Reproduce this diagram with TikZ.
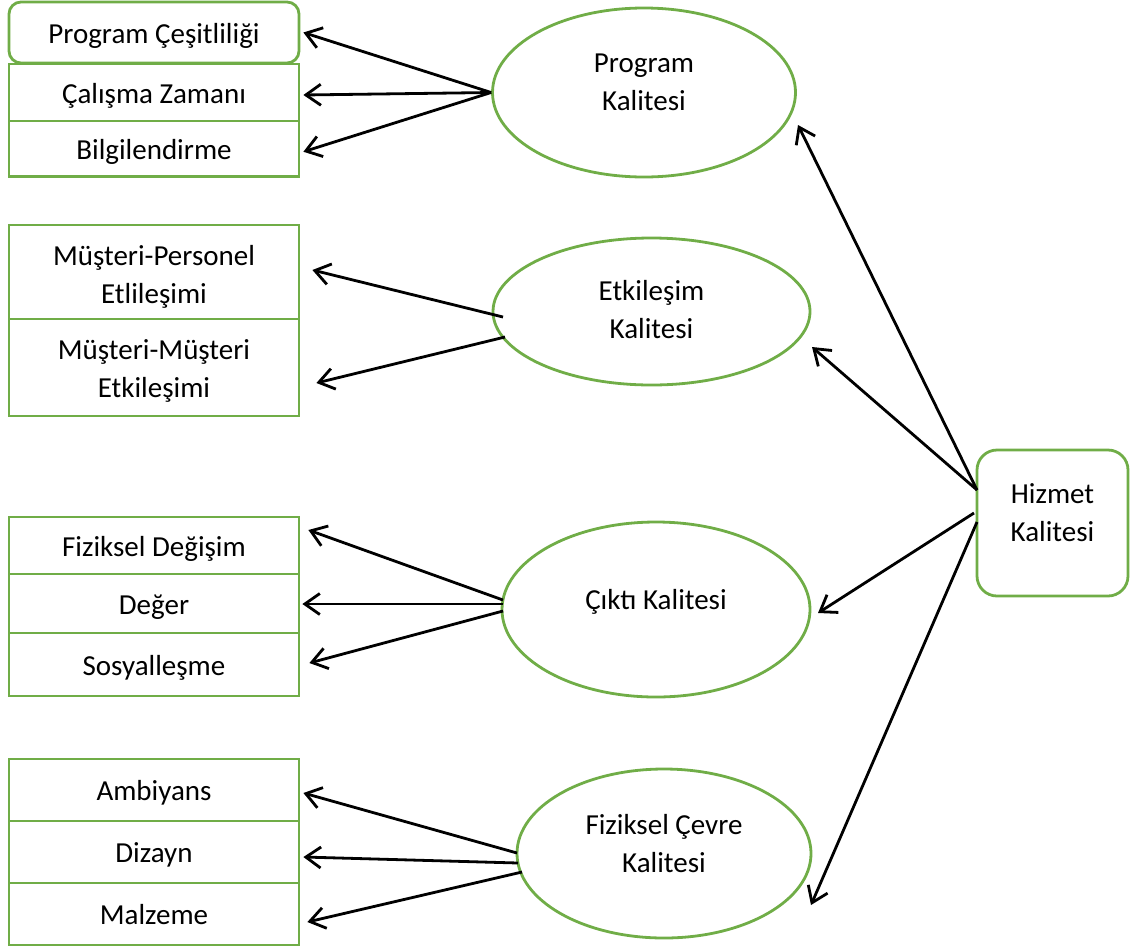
\documentclass[tikz,border=0pt]{standalone}
\usepackage{fontspec}
\setmainfont{Carlito}
\usetikzlibrary{arrows.meta,shapes.geometric,calc}
\definecolor{grn}{HTML}{70AD47}
\begin{document}
\begin{tikzpicture}[x=1pt,y=-1pt,
  every node/.style={font=\fontsize{29}{38}\selectfont},
  gbox/.style={draw=grn, line width=2.8pt, minimum width=290pt, inner sep=0pt, text height=24pt, text depth=3pt},
  gboxtwo/.style={draw=grn, line width=2.8pt, minimum width=290pt, inner sep=0pt},
  gell/.style={draw=grn, line width=2.8pt, ellipse, inner sep=0pt},
  arr/.style={draw=black, line width=2.8pt, -{Straight Barb[length=15pt,width=21pt]}}
]
\useasboundingbox (0,0) rectangle (1142,951);

% group 1
\node[gbox, minimum height=61pt, rounded corners=12pt] (b1) at (154,32.5) {Program Çeşitliliği};
\node[gbox, minimum height=57pt] (b2) at (154,92.5) {Çalışma Zamanı};
\node[gbox, minimum height=55.5pt] (b3) at (154,148.75) {Bilgilendirme};
% group 2
\node[gboxtwo, minimum height=94pt,
  label={[name=m1t, align=center, yshift=-5pt]center:Müşteri-Personel\\Etlileşimi}] (m1) at (154,272) {};
\node[gboxtwo, minimum height=97pt,
  label={[name=m2t, align=center, yshift=-3pt]center:Müşteri-Müşteri\\Etkileşimi}] (m2) at (154,367.5) {};
% group 3
\node[gbox, minimum height=57pt] (c1) at (154,545.5) {Fiziksel Değişim};
\node[gbox, minimum height=59pt] (c2) at (154,603.5) {Değer};
\node[gbox, minimum height=63pt] (c3) at (154,664.5) {Sosyalleşme};
% group 4
\node[gbox, minimum height=62pt] (a1) at (154,790) {Ambiyans};
\node[gbox, minimum height=62pt] (a2) at (154,852) {Dizayn};
\node[gbox, minimum height=62pt] (a3) at (154,914) {Malzeme};

% ellipses
\node[gell, minimum width=303pt, minimum height=169pt,
  label={[name=pkt, align=center, yshift=10pt]center:Program\\Kalitesi}] (pk) at (644,92.5) {};
\node[gell, minimum width=317pt, minimum height=147pt,
  label={[name=ekt, align=center, yshift=2pt]center:Etkileşim\\Kalitesi}] (ek) at (651.5,311.5) {};
\node[gell, minimum width=308pt, minimum height=175pt,
  label={[name=ckt, yshift=8pt]center:Çıktı Kalitesi}] (ck) at (656,609.5) {};
\node[gell, minimum width=294pt, minimum height=169pt,
  label={[name=fkt, align=center, yshift=10pt]center:Fiziksel Çevre\\Kalitesi}] (fk) at (664,853.5) {};

% hizmet
\node[draw=grn, line width=2.8pt, rounded corners=20pt, minimum width=151pt, minimum height=146pt, inner sep=0pt,
  label={[name=hkt, align=center, yshift=10pt]center:Hizmet\\Kalitesi}] (hk) at (1052.5,523) {};

% arrows ellipse -> boxes
\draw[arr] (pk.west) -- ([xshift=3pt]b1.east);
\draw[arr] (pk.west) -- ($(b2.east)+(3,2.5)$);
\draw[arr] (pk.west) -- ($(b3.east)+(3,3)$);

\draw[arr] ($(ek.center)+(-148.5,5.5)$) -- ($(m1.east)+(12,-2)$);
\draw[arr] ($(ek.center)+(-146.5,25.5)$) -- ($(m2.east)+(16,15.5)$);

\draw[arr] ($(ck.center)+(-153,-9.5)$) -- ($(c1.east)+(8,-15.5)$);
\draw[arr] ($(ck.center)+(-153,-5.5)$) -- ($(c2.east)+(2,0.5)$);
\draw[arr] ($(ck.center)+(-153,1.5)$) -- ($(c3.east)+(9,-1.5)$);

\draw[arr] ($(fk.center)+(-147,-0.5)$) -- ($(a1.east)+(3,3)$);
\draw[arr] ($(fk.center)+(-146,9.5)$) -- ($(a2.east)+(3,5)$);
\draw[arr] ($(fk.center)+(-142,18.5)$) -- ($(a3.east)+(7,8)$);

% arrows hizmet -> ellipses
\draw[arr] ($(hk.center)+(-75.5,-33)$) -- ($(pk.center)+(154,32.5)$);
\draw[arr] ($(hk.center)+(-75.5,-33)$) -- ($(ek.center)+(160.5,35.5)$);
\draw[arr] ($(hk.center)+(-78.5,-10)$) -- ($(ck.center)+(162,3.5)$);
\draw[arr] ($(hk.center)+(-75.5,-1)$) -- ($(fk.center)+(147,51.5)$);
\end{tikzpicture}
\end{document}
